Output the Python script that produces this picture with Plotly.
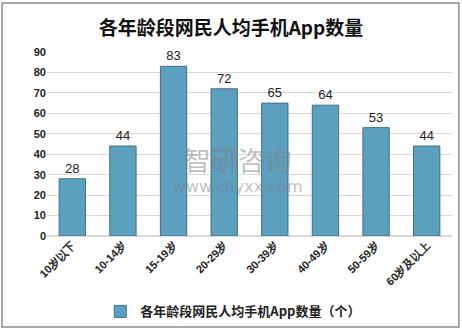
import plotly.graph_objects as go

# Age groups and average number of mobile apps per internet user
categories = ["10岁以下", "10-14岁", "15-19岁", "20-29岁", "30-39岁", "40-49岁", "50-59岁", "60岁及以上"]
app_counts = [28, 44, 83, 72, 65, 64, 53, 44]
y_ticks = [0, 10, 20, 30, 40, 50, 60, 70, 80, 90]

title_text = "各年龄段网民人均手机App数量"
series_name = "各年龄段网民人均手机App数量（个）"

fig = go.Figure()
fig.add_trace(go.Bar(
    x=categories,
    y=app_counts,
    name=series_name,
    width=0.52,
    marker=dict(color="#5c9fbf", line=dict(color="#3f6f88", width=1)),
    text=[str(v) for v in app_counts],
    textposition="outside",
    textfont=dict(family="Liberation Sans, Arial", size=13, color="#222222"),
    cliponaxis=False,
))

# Semi-transparent site watermark across the middle of the plot
fig.add_annotation(
    x=0.47, y=0.37, xref="paper", yref="paper",
    text=("<span style='font-size:27px'>智研咨询</span><br>"
          "<span style='font-size:16px;font-family:DejaVu Sans'>www.chyxx.com</span>"),
    showarrow=False, align="center",
    font=dict(family="Noto Sans CJK SC", size=16, color="rgba(130,130,130,0.5)"),
)

fig.update_layout(
    width=462, height=336,
    margin=dict(l=47, r=10, t=52, b=96),
    paper_bgcolor="white", plot_bgcolor="white",
    title=dict(
        text="<b>" + title_text + "</b>",
        x=0.5, xanchor="center", y=0.915, yanchor="middle",
        font=dict(family="Noto Sans CJK SC", size=19, color="#111111"),
    ),
    showlegend=True,
    legend=dict(
        orientation="h", x=0.46, xanchor="center", y=-0.41, yanchor="middle",
        font=dict(family="Noto Sans CJK SC", size=13, color="#222222", weight="bold"),
        itemwidth=30,
    ),
    bargap=0.48,
    xaxis=dict(
        tickangle=-45,
        tickfont=dict(family="Liberation Sans, Arial", size=11, color="#222222", weight="bold"),
        showline=False, showgrid=False, ticks="",
    ),
    yaxis=dict(
        range=[0, 90],
        tickvals=y_ticks,
        tickfont=dict(family="Liberation Sans, Arial", size=11, color="#222222", weight="bold"),
        showgrid=True, gridcolor="#d9d9d9", gridwidth=1,
        zeroline=True, zerolinecolor="#d9d9d9",
        showline=False, ticks="",
    ),
    shapes=[dict(
        type="rect", xref="paper", yref="paper",
        x0=-0.111, x1=1.017, y0=-0.495, y1=1.266,
        line=dict(color="#8c8c8c", width=1.5),
    )],
)

fig.write_html("out.html")
